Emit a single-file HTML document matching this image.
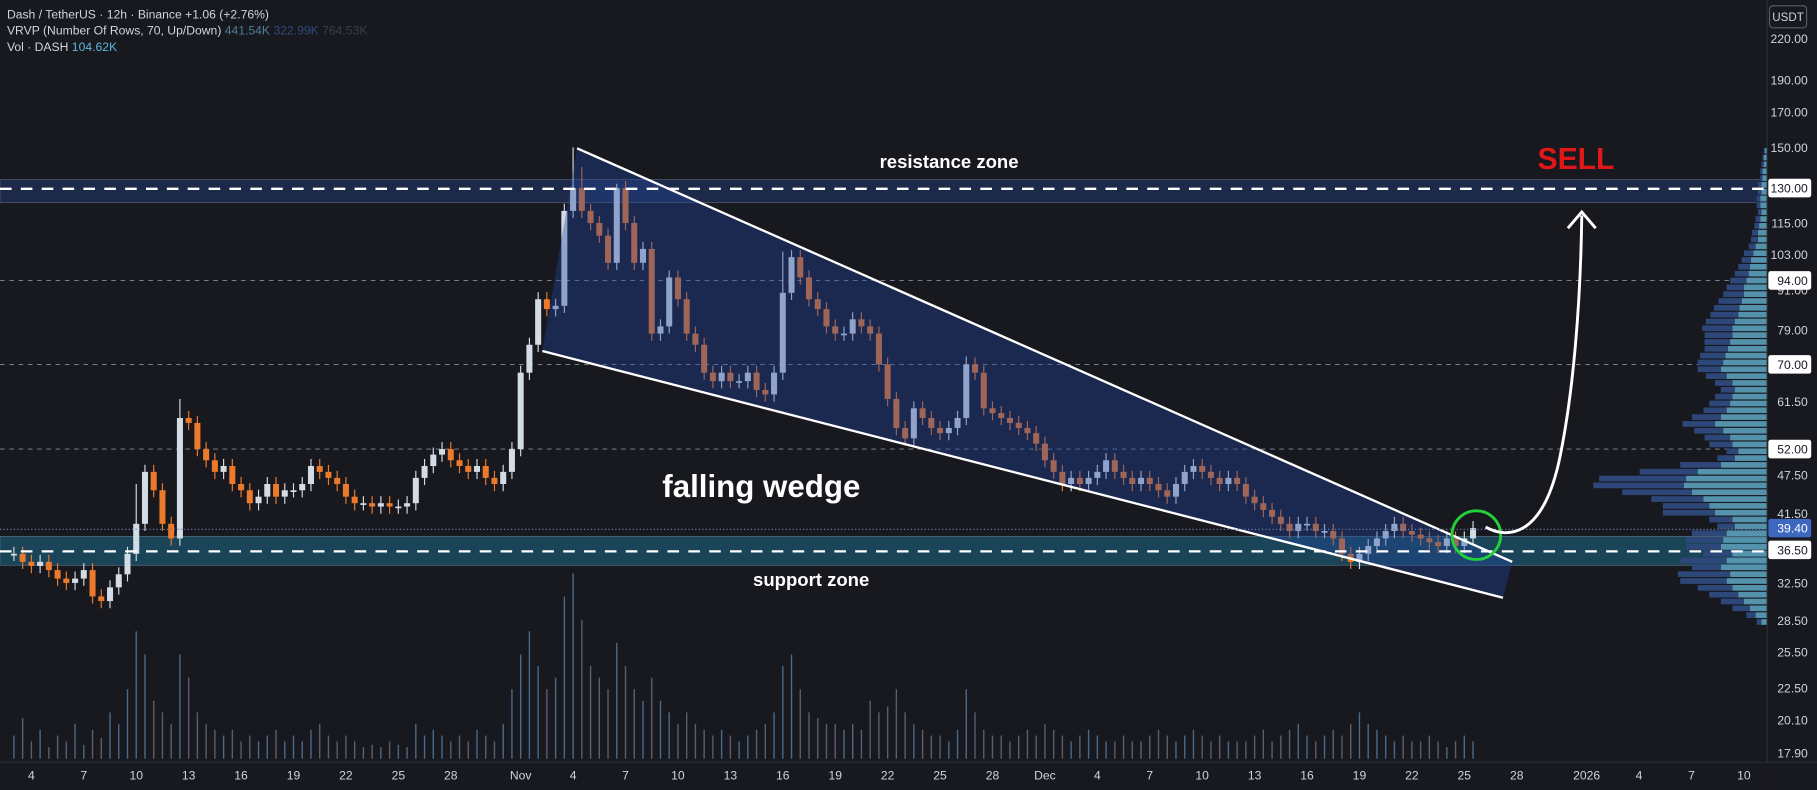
<!DOCTYPE html>
<html><head><meta charset="utf-8"><style>
html,body{margin:0;padding:0;background:#18181f;overflow:hidden}
svg{display:block}
text{font-family:"Liberation Sans",sans-serif}
</style></head><body>
<svg id="c" width="1817" height="790" viewBox="0 0 1568 682" preserveAspectRatio="none" xmlns="http://www.w3.org/2000/svg">
<rect x="0" y="0" width="1568" height="682" fill="#18181f"/>
<g id="grid"></g>
<rect x="0" y="155" width="1525" height="20" fill="rgba(40,75,150,0.35)" stroke="#5a6070" stroke-width="0.6"/>
<rect x="0" y="463" width="1525" height="25" fill="rgba(30,105,135,0.55)" stroke="#5a7080" stroke-width="0.6"/>
<g id="vol"></g>
<g id="vp"></g>
<g id="candles"></g>
<polygon points="498,128 1305,485 1297,516 468,303" fill="rgba(35,70,160,0.38)"/>
<line x1="498" y1="128" x2="1305" y2="485" stroke="#fff" stroke-width="2"/>
<line x1="468" y1="303" x2="1297" y2="516" stroke="#fff" stroke-width="2"/>
<line x1="0" y1="163" x2="1525" y2="163" stroke="#fff" stroke-width="2" stroke-dasharray="10,8"/>
<line x1="0" y1="476" x2="1525" y2="476" stroke="#fff" stroke-width="2" stroke-dasharray="10,8"/>
<line x1="0" y1="457" x2="1525" y2="457" stroke="#6a7cb0" stroke-width="1" stroke-dasharray="1,2"/>
<text x="819" y="145" fill="#fff" font-size="16" font-weight="bold" text-anchor="middle">resistance zone</text>
<text x="700" y="506" fill="#fff" font-size="16" font-weight="bold" text-anchor="middle">support zone</text>
<text x="657" y="429" fill="#fff" font-size="27" font-weight="bold" text-anchor="middle">falling wedge</text>
<text x="1360" y="146" fill="#e01818" font-size="26" font-weight="bold" text-anchor="middle">SELL</text>
<circle cx="1274" cy="462" r="21" fill="none" stroke="#22d03a" stroke-width="2.5"/>
<path d="M1282,455 C1300,465 1330,465 1345,400 C1358,340 1364,260 1365,186" fill="none" stroke="#fff" stroke-width="2.5"/>
<polyline points="1353,197 1365,183 1377,197" fill="none" stroke="#fff" stroke-width="2.5"/>
<rect x="1525" y="0" width="43" height="682" fill="#18181f"/>
<line x1="1525" y1="0" x2="1525" y2="658" stroke="#2a2e39"/>
<g id="yaxis"></g>
<rect x="0" y="658" width="1525" height="24" fill="#18181f"/>
<line x1="0" y1="658" x2="1568" y2="658" stroke="#2a2e39"/>
<g id="xaxis"></g>
<g font-size="10.5">
<text x="6" y="16" fill="#d1d4dc">Dash / TetherUS · 12h · Binance  <tspan fill="#d1d4dc">+1.06 (+2.76%)</tspan></text>
<text x="6" y="30" fill="#d1d4dc">VRVP (Number Of Rows, 70, Up/Down) <tspan fill="#4f7e99">441.54K</tspan> <tspan fill="#2f4a7a">322.99K</tspan> <tspan fill="#3a3d48">764.53K</tspan></text>
<text x="6" y="44" fill="#d1d4dc">Vol · DASH  <tspan fill="#5bb8d8">104.62K</tspan></text>
</g>
<rect x="1527" y="5" width="32" height="19" rx="3" fill="#18181f" stroke="#5a5e6a"/>
<text x="1543" y="18" fill="#d1d4dc" font-size="10" text-anchor="middle">USDT</text>
</svg>
<script>
const closes=[36,35,34.5,35, 34,33,32.5,33,34, 31,30.5,32,33.5, 36,40,48, 45,40,38, 58,57,52,
50,48,49,46,45, 43,44,46,44,45,45, 46,49,48,47,46,44, 43,43,42.5,43,42.5,42.5,43,
47,49,51,52,50, 49,48,49,47,46, 48,52,68, 75,88,85, 86,120,130,
120,115,110,100, 130,115,100,105, 78,80,95,88,78, 75,68,66,68,66, 66,68,64,63,68,
90,102,95, 88,85,80,78,78, 82,80,78,70,62, 56,54,60,58,56, 55,56,58,70,68,
60,59,58,57,56, 55,53,50,48,46, 47,46,47,48,50, 48,47,46,47,46, 45,44,46,48,49,
48,47,46,47,46, 44,43,42,41,40, 39,40,40,39,39, 38,36,35,36,37, 38,39,40,39,38.5,
38,37.5,37,38,37, 38,39.4];
const highOverrides={19:62,64:150,65:140,69:132,88:104,109:72,14:46};
const volumes=[20,35,15,25,10,20,15,30,12,25,18,40,30,
60,110,90,50,40,30,90,70,40,
30,25,20,25,15,20,15,20,25,15,20,15,25,30,20,15,20,15,10,12,10,15,12,10,
30,20,25,20,15,20,15,25,20,15,30,60,90,
110,80,60,70,140,160,120,80,70,60,100,80,60,50,
70,50,40,30,40,30,25,20,25,20,15,20,25,30,40,80,90,60,
40,35,30,30,25,30,25,50,40,45,60,40,30,25,20,20,15,25,60,40,
25,20,20,15,20,25,20,30,25,20,15,20,25,20,15,15,20,15,15,20,25,20,15,20,25,20,15,20,15,15,
15,20,25,15,20,25,30,20,15,20,25,20,30,40,30,25,20,15,20,15,15,20,15,10,15,20,15];
const vpUp=[2,3,3,4,4,5,5,6,6,5,6,7,8,8,10,12,14,15,16,18,20,20,22,24,25,28,30,30,32,34,36,
38,40,35,30,28,30,32,35,40,45,38,32,30,25,28,40,60,70,72,65,55,50,45,30,28,
35,38,40,30,35,40,32,35,30,25,20,15,10,5];
const vpDown=[1,1,2,2,2,3,3,3,3,3,4,4,5,6,6,8,8,10,12,14,15,18,20,22,24,25,26,24,22,20,22,
22,20,18,15,12,15,18,20,25,28,25,22,20,10,15,35,50,75,78,60,45,40,45,20,15,
30,32,30,25,40,25,45,40,30,25,20,15,8,4];
const priceTicks=[220,190,170,150,115,103,91,79,61.5,47.5,41.5,32.5,28.5,25.5,22.5,20.1,17.9];
const markedPrices=[130,94,70,52,36.5];
const lastPrice=39.4;
const dateLabels=["4","7","10","13","16","19","22","25","28","Nov","4","7","10","13","16","19","22","25","28","Dec","4","7","10","13","16","19","22","25","28","2026","4","7","10"];
const dateDayIndex=[1,4,7,10,13,16,19,22,25,29,32,35,38,41,44,47,50,53,56,59,62,65,68,71,74,77,80,83,86,90,93,96,99];

const NS="http://www.w3.org/2000/svg";
function yP(p){return 33+(Math.log(220)-Math.log(p))*245.9;}
function xI(i){return 12+7.54*i;}
function xDay(d){return 12+15.08*d;}
function yV(v){return 655-v;}
function mk(tag,attrs,parent){const e=document.createElementNS(NS,tag);for(const k in attrs)e.setAttribute(k,attrs[k]);parent.appendChild(e);return e;}

const grid=document.getElementById('grid');
markedPrices.forEach(p=>{if(p===130||p===36.5)return;
 const l=mk('line',{x1:0,x2:1525,y1:yP(p),y2:yP(p),stroke:'#8a8d96','stroke-width':0.8,'stroke-dasharray':'4,4'},grid);
 
 });

const vg=document.getElementById('vol');
volumes.forEach((v,i)=>{const up=i===0||closes[i]>=closes[i-1];
 const r=mk('rect',{x:xI(i)-0.6,y:yV(v),width:1.2,height:v,fill:up?'#4a6a88':'#5a5f6e'},vg);
 
 });

const vpg=document.getElementById('vp');
const vpTop=yP(150),vpBot=yP(28),rh=(vpBot-vpTop)/vpUp.length;
vpUp.forEach((u,k)=>{const d=vpDown[k];const y=vpTop+k*rh;
 const a=mk('rect',{x:1525-u,y:y+0.5,width:u,height:rh-1,fill:'#5592ab'},vpg);
 
 
 const b=mk('rect',{x:1525-u-d,y:y+0.5,width:d,height:rh-1,fill:'#2d4779'},vpg);
 
 });

const cg=document.getElementById('candles');
closes.forEach((c,i)=>{const o=i===0?c:closes[i-1];const up=c>=o;
 const hi=highOverrides[i]||Math.max(o,c)*1.025;const lo=Math.min(o,c)*0.975;
 const col=up?'#d3dbe5':'#ec7a2c';
 const w=mk('line',{x1:xI(i),x2:xI(i),y1:yP(hi),y2:yP(lo),stroke:col,'stroke-width':1},cg);
 
 
 const yt=yP(Math.max(o,c)),yb=yP(Math.min(o,c));
 const b=mk('rect',{x:xI(i)-2.6,y:yt,width:5.2,height:Math.max(1.5,yb-yt),fill:col},cg);
 
 });

const ya=document.getElementById('yaxis');
priceTicks.forEach(p=>{const t=mk('text',{x:1560,y:yP(p)+4,fill:'#d1d4dc','font-size':10.5,'text-anchor':'end'},ya);
 t.textContent=p.toFixed(2);
 
 });
markedPrices.forEach(p=>{const y=yP(p);
 const r=mk('rect',{x:1526,y:y-8,width:37,height:16,rx:2,fill:'#fff'},ya);
 
 
 const t=mk('text',{x:1560,y:y+4,fill:'#131722','font-size':10.5,'text-anchor':'end'},ya);
 t.textContent=p.toFixed(2);
 
 });
{const y=yP(lastPrice);
 const r=mk('rect',{x:1526,y:y-8,width:37,height:16,rx:2,fill:'#3d68c0'},ya);
 
 
 const t=mk('text',{x:1560,y:y+4,fill:'#fff','font-size':10.5,'text-anchor':'end'},ya);
 t.textContent=lastPrice.toFixed(2);
 
 }

const xa=document.getElementById('xaxis');
dateLabels.forEach((s,k)=>{const t=mk('text',{x:xDay(dateDayIndex[k]),y:673,fill:'#d1d4dc','font-size':10.5,'text-anchor':'middle'},xa);
 t.textContent=s;
 
 });
</script>
</body></html>
